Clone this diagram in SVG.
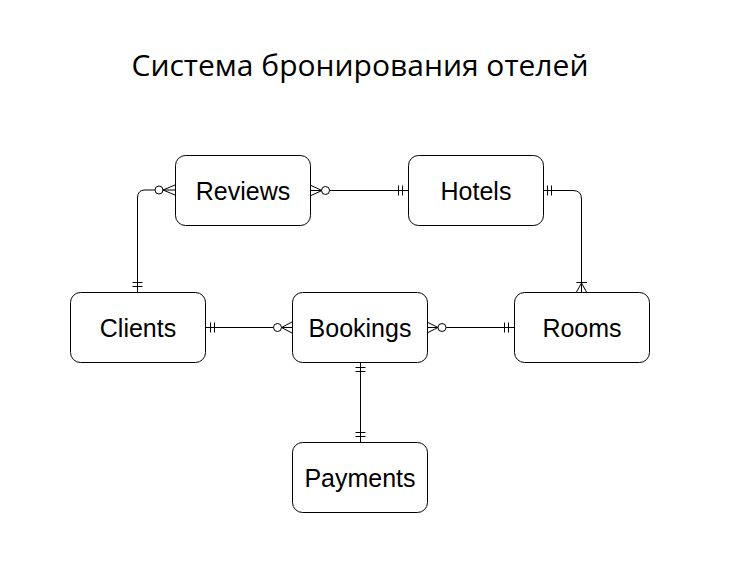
<svg xmlns="http://www.w3.org/2000/svg" width="733" height="578" viewBox="0 0 733 578">
<style>
.box{fill:#fff;stroke:#000;stroke-width:1}
.lbl{font-family:"Liberation Sans",Arial,sans-serif;font-size:25px;fill:#000;text-anchor:middle;dominant-baseline:central}
.ttl{font-family:"Open Sans","Noto Sans",sans-serif;font-size:30px;fill:#000;text-anchor:middle}
.ln{fill:none;stroke:#000;stroke-width:1}
.end{fill:#fff;stroke:#000;stroke-width:1}
</style>
<rect width="733" height="578" fill="#fff"/>
<text class="ttl" x="360" y="76">Система бронирования отелей</text>
<g id="connectors">
  <!-- Reviews - Clients -->
  <path class="ln" d="M175 190 H145 Q137.5 190 137.5 198 V292" stroke="#555"/>
  <path class="ln" d="M175 185 L163 190 L175 195"/>
  <circle class="end" cx="159" cy="190" r="4"/>
  <path class="ln" d="M132.5 282.5 H142.5 M132.5 286.5 H142.5"/>
  <!-- Reviews - Hotels -->
  <path class="ln" d="M310 190.5 H408"/>
  <path class="ln" d="M310 185 L322 190.5 L310 196"/>
  <circle class="end" cx="325.5" cy="190.5" r="4"/>
  <path class="ln" d="M398.5 185.5 V195.5 M402.5 185.5 V195.5"/>
  <!-- Hotels - Rooms -->
  <path class="ln" d="M543 190.5 H573 Q581.5 190.5 581.5 199 V292" stroke="#555"/>
  <path class="ln" d="M547.5 185.5 V195.5 M551.5 185.5 V195.5"/>
  <path class="ln" d="M576.5 282.5 H587 M576.5 292 L581.5 283 L586.5 292"/>
  <!-- Clients - Bookings -->
  <path class="ln" d="M205 327.5 H292"/>
  <path class="ln" d="M210.5 322.5 V332.5 M214.5 322.5 V332.5"/>
  <circle class="end" cx="277.5" cy="327.5" r="4"/>
  <path class="ln" d="M292 322 L281.5 327.5 L292 333"/>
  <!-- Bookings - Rooms -->
  <path class="ln" d="M427 327.5 H514"/>
  <path class="ln" d="M427 322 L438 327.5 L427 333"/>
  <circle class="end" cx="442" cy="327.5" r="4"/>
  <path class="ln" d="M504.5 322.5 V332.5 M508.5 322.5 V332.5"/>
  <!-- Bookings - Payments -->
  <path class="ln" d="M360.5 362 V442"/>
  <path class="ln" d="M355.5 367.5 H365.5 M355.5 371.5 H365.5"/>
  <path class="ln" d="M355.5 432.5 H365.5 M355.5 436.5 H365.5"/>
</g>
<g id="node-reviews"><rect class="box" x="175.5" y="155.5" width="135" height="70" rx="10"/><text class="lbl" x="243" y="190.5">Reviews</text></g>
<g id="node-hotels"><rect class="box" x="408.5" y="155.5" width="135" height="70" rx="10"/><text class="lbl" x="476" y="190.5">Hotels</text></g>
<g id="node-clients"><rect class="box" x="70.5" y="292.5" width="135" height="70" rx="10"/><text class="lbl" x="138" y="327.5">Clients</text></g>
<g id="node-bookings"><rect class="box" x="292.5" y="292.5" width="135" height="70" rx="10"/><text class="lbl" x="360" y="327.5">Bookings</text></g>
<g id="node-rooms"><rect class="box" x="514.5" y="292.5" width="135" height="70" rx="10"/><text class="lbl" x="582" y="327.5">Rooms</text></g>
<g id="node-payments"><rect class="box" x="292.5" y="442.5" width="135" height="70" rx="10"/><text class="lbl" x="360" y="477.5">Payments</text></g>
</svg>
